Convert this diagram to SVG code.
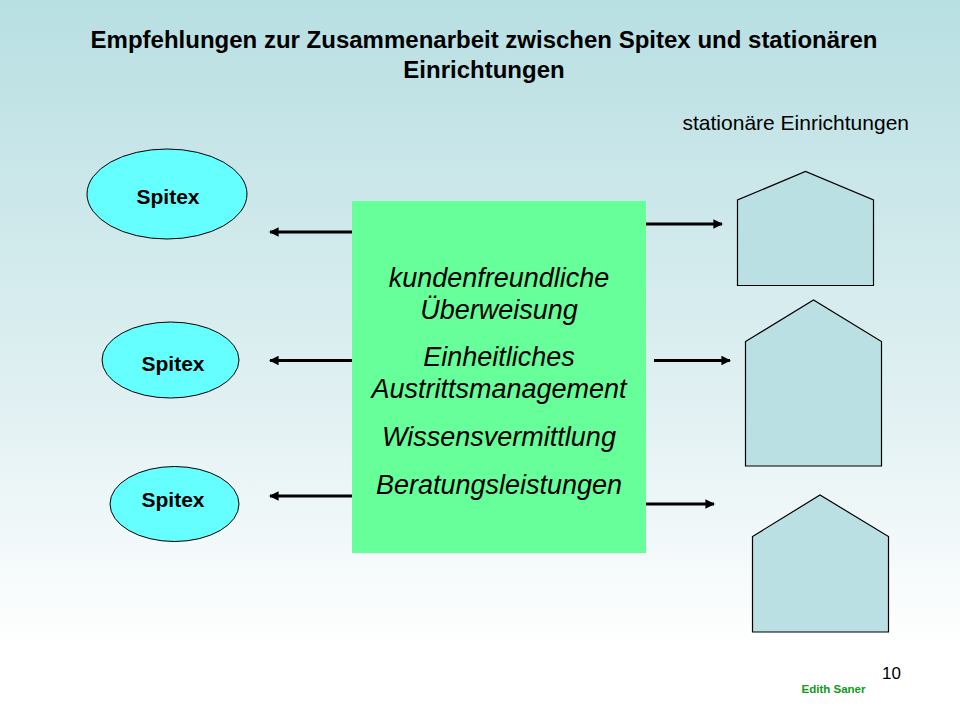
<svg xmlns="http://www.w3.org/2000/svg" width="960" height="720" viewBox="0 0 960 720">
<defs>
<linearGradient id="bg" x1="0" y1="0" x2="0" y2="1">
<stop offset="0" stop-color="#b8dfe2"/>
<stop offset="0.55" stop-color="#e0f0f2"/>
<stop offset="0.9" stop-color="#ffffff"/>
<stop offset="1" stop-color="#ffffff"/>
</linearGradient>
<marker id="ah" viewBox="0 0 10 10" refX="9" refY="5" markerWidth="3.2" markerHeight="3.2" orient="auto" markerUnits="strokeWidth">
<path d="M0,0 L10,5 L0,10 z" fill="#000"/>
</marker>
<style>
.t{font-family:"Liberation Sans",Arial,sans-serif;fill:#000}
.title{font-size:24px;font-weight:bold;text-anchor:middle}
.sp{font-size:21px;font-weight:bold;text-anchor:middle}
.box{font-size:27px;font-style:italic;text-anchor:middle}
.ell{fill:#66ffff;stroke:#000;stroke-width:1}
.house{fill:#bbe0e3;stroke:#000;stroke-width:1.2}
.arr{stroke:#000;stroke-width:3;fill:none;marker-end:url(#ah)}
</style>
</defs>
<rect width="960" height="720" fill="url(#bg)"/>
<text class="t title" x="484" y="48">Empfehlungen zur Zusammenarbeit zwischen Spitex und stationären</text>
<text class="t title" x="484" y="78">Einrichtungen</text>
<text class="t" x="909" y="130" font-size="21" text-anchor="end">stationäre Einrichtungen</text>
<g id="spitex1"><ellipse class="ell" cx="167" cy="194" rx="80" ry="45"/><text class="t sp" x="168" y="204">Spitex</text></g>
<g id="spitex2"><ellipse class="ell" cx="170.5" cy="360" rx="68.5" ry="38"/><text class="t sp" x="173" y="371">Spitex</text></g>
<g id="spitex3"><ellipse class="ell" cx="174.5" cy="504" rx="64.5" ry="37.5"/><text class="t sp" x="173" y="507">Spitex</text></g>
<g id="center"><rect x="352" y="201" width="294" height="352" fill="#66ff99"/>
<text class="t box" x="499" y="287">kundenfreundliche</text>
<text class="t box" x="499" y="319">Überweisung</text>
<text class="t box" x="499" y="366">Einheitliches</text>
<text class="t box" x="499" y="398">Austrittsmanagement</text>
<text class="t box" x="499" y="446">Wissensvermittlung</text>
<text class="t box" x="499" y="494">Beratungsleistungen</text>
</g>
<g id="house1"><polygon class="house" points="737.5,285.5 737.5,200 805.5,171.5 873.5,200 873.5,285.5"/></g>
<g id="house2"><polygon class="house" points="745.5,466 745.5,341.5 813.5,300 881.5,341.5 881.5,466"/></g>
<g id="house3"><polygon class="house" points="752.5,632 752.5,536.5 820,495 888.5,536.5 888.5,632"/></g>
<g id="connectors">
<line class="arr" x1="352" y1="232" x2="270" y2="232"/>
<line class="arr" x1="352" y1="360.5" x2="270" y2="360.5"/>
<line class="arr" x1="352" y1="496" x2="270" y2="496"/>
<line class="arr" x1="646" y1="224" x2="722" y2="224"/>
<line class="arr" x1="654" y1="360.5" x2="730" y2="360.5"/>
<line class="arr" x1="646" y1="504" x2="714" y2="504"/>
</g>
<text class="t" x="901" y="679" font-size="17" text-anchor="end">10</text>
<text x="833.5" y="693" font-family="Liberation Sans,Arial,sans-serif" font-size="11.5" font-weight="bold" fill="#119922" text-anchor="middle">Edith Saner</text>
</svg>
